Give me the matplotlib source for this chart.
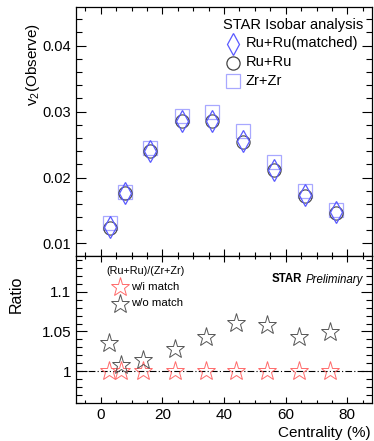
import matplotlib
matplotlib.use("Agg")
import matplotlib.pyplot as plt
from matplotlib.ticker import MultipleLocator
import numpy as np

plt.rcParams['font.family'] = ['Liberation Sans', 'DejaVu Sans']
plt.rcParams['mathtext.fontset'] = 'custom'
plt.rcParams['mathtext.rm'] = 'Liberation Sans'
plt.rcParams['mathtext.it'] = 'Liberation Sans:italic'

# --- data ---
cent_top = [3.1, 8.0, 16.0, 26.3, 36.2, 46.0, 56.2, 66.2, 76.3]
v2_ru_matched = [0.0125, 0.0177, 0.0240, 0.0286, 0.0286, 0.0256, 0.0212, 0.0173, 0.0147]
v2_ru = [0.0124, 0.0177, 0.0240, 0.0285, 0.0285, 0.0254, 0.0212, 0.0172, 0.0146]
v2_zr = [0.0131, 0.0178, 0.0244, 0.0293, 0.0300, 0.0270, 0.0224, 0.0179, 0.0151]

cent_bot = [2.6, 6.5, 13.7, 24.0, 34.3, 44.0, 54.0, 64.3, 74.3]
ratio_match = [1.0, 1.0, 1.0, 1.0, 1.0, 1.0, 1.0, 1.0, 1.0]
ratio_nomatch = [1.035, 1.0076, 1.014, 1.0275, 1.0427, 1.061, 1.058, 1.0434, 1.0497]

W, H = 374, 441
fig = plt.figure(figsize=(W / 100, H / 100), dpi=100)

def ax_rect(l, t, r, b):
    return [l / W, 1 - b / H, (r - l) / W, (b - t) / H]

ax1 = fig.add_axes(ax_rect(76, 6.7, 372, 256))
ax2 = fig.add_axes(ax_rect(76, 256, 372, 403))

blue = '#5a5aff'
lblue = '#a8a8ff'
dark = '#444444'
red = '#ff6a6a'
gray = '#555555'

ax1.plot(cent_top, v2_zr, ls='none', marker='s', ms=10.5, mfc='none', mec=lblue, mew=0.9)
ax1.plot(cent_top, v2_ru, ls='none', marker='o', ms=9.5, mfc='none', mec=dark, mew=0.8)
ax1.plot(cent_top, v2_ru_matched, ls='none', marker='d', ms=11, mfc='none', mec=blue, mew=0.9)

ax1.set_xlim(-8, 88)
ax1.set_ylim(0.0081, 0.0459)
ax2.set_xlim(-8, 88)
ax2.set_ylim(0.96, 1.145)

ax2.axhline(1.0, color='black', lw=0.8, ls=(0, (6, 2, 1, 2)))
ax2.plot(cent_bot, ratio_match, ls='none', marker='*', ms=14, mfc='none', mec=red, mew=0.7)
ax2.plot(cent_bot, ratio_nomatch, ls='none', marker='*', ms=14, mfc='none', mec=gray, mew=0.7)

for ax in (ax1, ax2):
    for s in ax.spines.values():
        s.set_linewidth(0.9)
    ax.xaxis.set_major_locator(MultipleLocator(20))
    ax.xaxis.set_minor_locator(MultipleLocator(5))
    ax.tick_params(which='both', direction='in', top=True, right=True, width=0.8, labelsize=10.5)

ax1.yaxis.set_major_locator(MultipleLocator(0.01))
ax1.yaxis.set_minor_locator(MultipleLocator(0.002))
ax1.tick_params(axis='y', which='major', length=7.5)
ax1.tick_params(axis='y', which='minor', length=4)
ax1.tick_params(axis='x', which='major', length=5)
ax1.tick_params(axis='x', which='minor', length=3)
ax1.tick_params(axis='x', labelbottom=False)
ax1.set_yticks([0.01, 0.02, 0.03, 0.04])
ax1.set_yticklabels(['0.01', '0.02', '0.03', '0.04'])

ax2.yaxis.set_major_locator(MultipleLocator(0.05))
ax2.yaxis.set_minor_locator(MultipleLocator(0.01))
ax2.set_yticks([1.0, 1.05, 1.1])
ax2.set_yticklabels(['1', '1.05', '1.1'])
ax2.tick_params(axis='y', which='major', length=8)
ax2.tick_params(axis='y', which='minor', length=4.5)
ax2.tick_params(axis='x', which='major', length=4)
ax2.tick_params(axis='x', which='minor', length=2.5)
ax2.tick_params(axis='y', labelsize=11)
ax2.tick_params(axis='x', labelsize=11)

# axis titles
fig.text(33.5 / W, 1 - 23 / H, r'$\mathrm{v}_{2}$(Observe)', rotation=90, ha='center', va='top', fontsize=11)
fig.text(16.5 / W, 1 - 294 / H, 'Ratio', rotation=90, ha='center', va='center', fontsize=11.5)
fig.text(371 / W, 1 - 433 / H, 'Centrality (%)', ha='right', va='center', fontsize=11)

# top legend
def px(x, y):
    return x / W, 1 - y / H

fig.text(*px(223, 25), 'STAR Isobar analysis', ha='left', va='center', fontsize=10.5)
legend_items = [('d', blue, 11, 'Ru+Ru(matched)', 43.5),
                ('o', dark, 9.5, 'Ru+Ru', 62.5),
                ('s', lblue, 10.5, 'Zr+Zr', 81)]
for m, c, ms, lab, y in legend_items:
    fig.lines.append(plt.Line2D([233 / W], [1 - y / H], transform=fig.transFigure,
                                marker=m, ms=ms, mfc='none', mec=c, mew=0.9, ls='none'))
    fig.text(*px(246, y), lab, ha='left', va='center', fontsize=10.5)

# bottom legend
fig.text(*px(106, 271), '(Ru+Ru)/(Zr+Zr)', ha='left', va='center', fontsize=7.8)
for c, lab, y in [(red, 'w/i match', 286.5), (gray, 'w/o match', 303.5)]:
    fig.lines.append(plt.Line2D([119.5 / W], [1 - y / H], transform=fig.transFigure,
                                marker='*', ms=14, mfc='none', mec=c, mew=0.7, ls='none'))
    fig.text(*px(131.5, y), lab, ha='left', va='center', fontsize=8.2)

fig.text(*px(271.5, 279.5), 'STAR', ha='left', va='center', fontsize=8.3, fontweight='bold')
fig.text(*px(305.5, 279.5), 'Preliminary', ha='left', va='center', fontsize=8.3, fontstyle='italic')

fig.savefig('out.png', dpi=100)
